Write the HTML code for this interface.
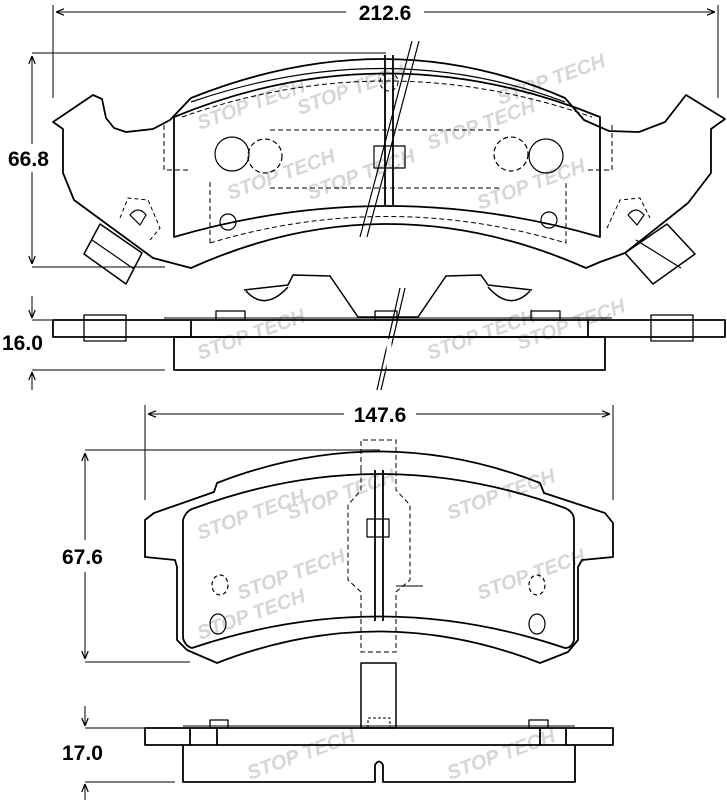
<!DOCTYPE html>
<html><head><meta charset="utf-8"><style>
html,body{margin:0;padding:0;background:#fff}
svg{display:block}
text{font-family:"Liberation Sans",sans-serif;font-weight:bold}
</style></head><body>
<svg width="727" height="800" viewBox="0 0 727 800" xmlns="http://www.w3.org/2000/svg">
<defs>
<marker id="a" viewBox="0 0 10 10" refX="10" refY="5" markerWidth="8" markerHeight="8" orient="auto-start-reverse"><path d="M0,1 L10,5 L0,9" fill="none" stroke="#000" stroke-width="1.5"/></marker>
</defs>
<!-- watermark -->
<g fill="#c8c8c8" font-size="20" font-family="Liberation Sans" font-weight="bold" font-style="italic" opacity="0.75">
<text x="200" y="130" transform="rotate(-20 200 130)">STOP TECH</text>
<text x="300" y="115" transform="rotate(-20 300 115)">STOP TECH</text>
<text x="430" y="150" transform="rotate(-20 430 150)">STOP TECH</text>
<text x="500" y="105" transform="rotate(-20 500 105)">STOP TECH</text>
<text x="230" y="200" transform="rotate(-20 230 200)">STOP TECH</text>
<text x="310" y="200" transform="rotate(-20 310 200)">STOP TECH</text>
<text x="480" y="210" transform="rotate(-20 480 210)">STOP TECH</text>
<text x="200" y="360" transform="rotate(-20 200 360)">STOP TECH</text>
<text x="430" y="360" transform="rotate(-20 430 360)">STOP TECH</text>
<text x="520" y="350" transform="rotate(-20 520 350)">STOP TECH</text>
<text x="200" y="540" transform="rotate(-20 200 540)">STOP TECH</text>
<text x="290" y="520" transform="rotate(-20 290 520)">STOP TECH</text>
<text x="450" y="520" transform="rotate(-20 450 520)">STOP TECH</text>
<text x="240" y="600" transform="rotate(-20 240 600)">STOP TECH</text>
<text x="480" y="600" transform="rotate(-20 480 600)">STOP TECH</text>
<text x="200" y="640" transform="rotate(-20 200 640)">STOP TECH</text>
<text x="250" y="780" transform="rotate(-20 250 780)">STOP TECH</text>
<text x="450" y="780" transform="rotate(-20 450 780)">STOP TECH</text>
</g>
<g fill="none" stroke="#000" stroke-width="1.8" stroke-linejoin="round">
<!-- TOP: 212.6 -->
<line x1="53" y1="5" x2="53" y2="98" stroke-width="1"/>
<line x1="718" y1="5" x2="718" y2="98" stroke-width="1"/>
<line x1="56" y1="12" x2="346" y2="12" stroke-width="1" marker-start="url(#a)"/>
<line x1="424" y1="12" x2="715" y2="12" stroke-width="1" marker-end="url(#a)"/>
<!-- 66.8 -->
<line x1="32" y1="53" x2="386" y2="53" stroke-width="1"/>
<line x1="32" y1="267" x2="165" y2="267" stroke-width="1"/>
<line x1="32" y1="56" x2="32" y2="144" stroke-width="1" marker-start="url(#a)"/>
<line x1="32" y1="172" x2="32" y2="264" stroke-width="1" marker-end="url(#a)"/>
<!-- plate -->
<path d="M53,122 L93,95 L102,99 L106,118 L114,128 L126,132 L153,129 L170,120 L191,98 Q386,20 565,98 L584,120 L609,131 L639,132 L665,122 L686,95 L725,119 L711,129 L711,173 L688,203 L625,253 L600,262 L586,268 Q386,180 191,268 L153,258 L74,200 L63,173 L63,129 Z"/>
<path d="M191,102 Q386,35 565,102" stroke-width="1.2"/>
<!-- friction -->
<path d="M174,237 L174,117 Q386,30 600,117 L600,237 Q386,175 174,237 Z"/>
<path d="M182,117 Q386,45 592,117 M164,125 L164,170 L188,170 M612,125 L612,170 L588,170 M210,243 Q386,190 566,243 L566,180 M210,243 L210,180" stroke-width="1" stroke-dasharray="5,3"/>
<path d="M270,130 L500,130 M270,188 L500,188" stroke-width="1" stroke-dasharray="5,3"/>
<circle cx="232" cy="154" r="17" stroke-width="1.2"/>
<circle cx="265" cy="156" r="17" stroke-width="1.2" stroke-dasharray="5,3"/>
<circle cx="511" cy="154" r="17" stroke-width="1.2" stroke-dasharray="5,3"/>
<circle cx="546" cy="156" r="17" stroke-width="1.2"/>
<circle cx="228" cy="222" r="8" stroke-width="1.2"/>
<circle cx="549" cy="220" r="8" stroke-width="1.2"/>
<circle cx="389" cy="82" r="9" stroke-width="1" stroke-dasharray="4,3"/>
<line x1="385" y1="55" x2="385" y2="205"/>
<line x1="393" y1="55" x2="393" y2="205"/>
<rect x="374" y="146" width="31" height="22" stroke-width="1.2"/>
<!-- ear clips -->
<polygon points="84,254 126,284 142,253 100,224" stroke-width="1.5"/>
<line x1="92" y1="240" x2="134" y2="269" stroke-width="1.2"/>
<polygon points="625,253 653,284 695,254 667,224" stroke-width="1.5"/>
<line x1="636" y1="240" x2="681" y2="268" stroke-width="1.2"/>
<path d="M120,218 L128,198 L148,200 L160,228 L150,240" stroke-width="1" stroke-dasharray="4,3"/>
<path d="M130,215 Q138,205 146,215 L140,225 Z" stroke-width="1.2"/>
<path d="M607,228 L620,200 L640,198 L650,218" stroke-width="1" stroke-dasharray="4,3"/>
<path d="M628,215 Q636,205 644,215 L637,225 Z" stroke-width="1.2"/>
<!-- break lines top -->
<path d="M412,41 L360,237 M419,41 L367,237" stroke-width="1.2"/>
<!-- spring clip -->
<path d="M244,290 L288,285 L293,275 L330,276 L358,317 L418,317 L446,276 L481,275 L488,285 L532,290" stroke-width="1.5"/>
<path d="M246,291 Q265,312 288,287 M488,287 Q510,312 530,291" stroke-width="1.5"/>
<!-- side view top -->
<rect x="53" y="320" width="672" height="17"/>
<rect x="174" y="337" width="431" height="33"/>
<line x1="191" y1="320" x2="191" y2="337"/>
<line x1="588" y1="320" x2="588" y2="337"/>
<rect x="84" y="315" width="42" height="26" stroke-width="1.3"/>
<rect x="651" y="315" width="42" height="26" stroke-width="1.3"/>
<rect x="216" y="311" width="29" height="9" stroke-width="1.3"/>
<rect x="531" y="311" width="29" height="9" stroke-width="1.3"/>
<rect x="375" y="311" width="22" height="9" stroke-width="1.3"/>
<line x1="164" y1="318" x2="612" y2="318" stroke-width="1"/>
<line x1="32" y1="370" x2="165" y2="370" stroke-width="1"/>
<line x1="32" y1="320" x2="53" y2="320" stroke-width="1"/>
<line x1="32" y1="296" x2="32" y2="318" stroke-width="1" marker-end="url(#a)"/>
<line x1="32" y1="390" x2="32" y2="372" stroke-width="1" marker-end="url(#a)"/>
<path d="M400,288 L377,390 M405,288 L381,390" stroke-width="1.2"/>
<line x1="389" y1="339" x2="389" y2="368" stroke="#fff" stroke-width="5"/>

<!-- BOTTOM: 147.6 -->
<line x1="145" y1="405" x2="145" y2="500" stroke-width="1"/>
<line x1="613" y1="405" x2="613" y2="500" stroke-width="1"/>
<line x1="148" y1="414" x2="344" y2="414" stroke-width="1" marker-start="url(#a)"/>
<line x1="416" y1="414" x2="610" y2="414" stroke-width="1" marker-end="url(#a)"/>
<!-- 67.6 -->
<line x1="85" y1="450" x2="380" y2="450" stroke-width="1"/>
<line x1="85" y1="662" x2="190" y2="662" stroke-width="1"/>
<line x1="85" y1="453" x2="85" y2="540" stroke-width="1" marker-start="url(#a)"/>
<line x1="85" y1="572" x2="85" y2="659" stroke-width="1" marker-end="url(#a)"/>
<!-- plate -->
<path d="M145,520 L154,513 L214,492 L217,483 Q379,420 540,483 L544,493 L605,513 L613,523 L613,557 L582,560 L578,567 L578,640 L568,652 L540,663 Q379,600 217,663 L187,650 L177,640 L177,567 L175,560 L145,557 Z"/>
<path d="M183,520 Q186,510 195,508 Q379,440 565,508 Q574,512 574,520 L574,640 Q572,648 565,648 Q379,585 192,648 Q185,646 183,638 Z"/>
<line x1="375" y1="470" x2="375" y2="621"/>
<line x1="383" y1="470" x2="383" y2="621"/>
<path d="M361,470 L361,440 L396,440 L396,490 L410,505 L410,580 L396,592 L396,652 L361,652 L361,592 L348,580 L348,505 L361,490 Z" stroke-width="1" stroke-dasharray="5,3"/>
<rect x="367" y="519" width="22" height="18" stroke-width="1.2"/>
<line x1="396" y1="586" x2="423" y2="586" stroke-width="1"/>
<ellipse cx="220" cy="585" rx="8" ry="10" stroke-width="1.2" stroke-dasharray="4,3"/>
<ellipse cx="218" cy="624" rx="8" ry="10" stroke-width="1.2"/>
<ellipse cx="537" cy="585" rx="8" ry="10" stroke-width="1.2" stroke-dasharray="4,3"/>
<ellipse cx="537" cy="624" rx="8" ry="10" stroke-width="1.2"/>
<!-- tab -->
<rect x="361" y="663" width="35" height="65" stroke-width="1.5"/>
<path d="M368,728 L368,718 L390,718 L390,728" stroke-width="1" stroke-dasharray="3,2"/>
<!-- side view bottom -->
<rect x="145" y="728" width="468" height="17"/>
<path d="M183,745 L183,782 L375,782 L375,765 Q379,758 383,765 L383,782 L575,782 L575,745"/>
<line x1="190" y1="728" x2="190" y2="745"/>
<line x1="217" y1="728" x2="217" y2="745"/>
<line x1="540" y1="728" x2="540" y2="745"/>
<line x1="566" y1="728" x2="566" y2="745"/>
<rect x="210" y="720" width="18" height="8" stroke-width="1.3"/>
<rect x="529" y="720" width="19" height="8" stroke-width="1.3"/>
<line x1="183" y1="726" x2="575" y2="726" stroke-width="1"/>
<line x1="85" y1="728" x2="145" y2="728" stroke-width="1"/>
<line x1="85" y1="782" x2="175" y2="782" stroke-width="1"/>
<line x1="85" y1="706" x2="85" y2="726" stroke-width="1" marker-end="url(#a)"/>
<line x1="85" y1="800" x2="85" y2="784" stroke-width="1" marker-end="url(#a)"/>
</g>
<g font-size="21" fill="#000">
<text x="385" y="20" text-anchor="middle">212.6</text>
<text x="8" y="166">66.8</text>
<text x="2" y="350">16.0</text>
<text x="380" y="422" text-anchor="middle">147.6</text>
<text x="62" y="564">67.6</text>
<text x="62" y="760">17.0</text>
</g>
</svg>
</body></html>
